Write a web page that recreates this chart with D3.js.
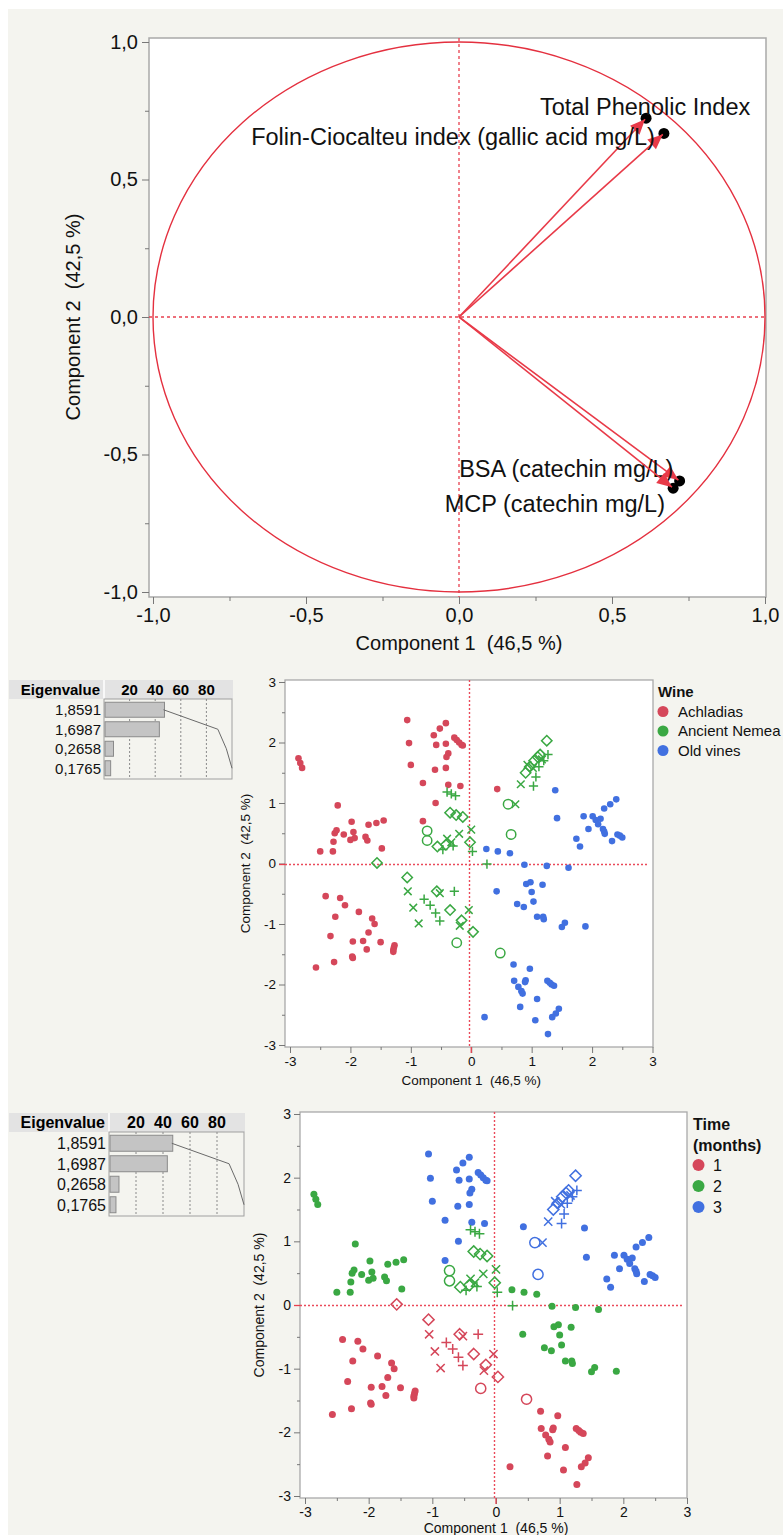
<!DOCTYPE html>
<html>
<head>
<meta charset="utf-8">
<script src="https://cdn.jsdelivr.net/npm/d3@7"></script>
<style>
  body { margin: 0; background: #fff; }
  svg { display: block; font-family: "Liberation Sans", Arial, sans-serif; }
</style>
</head>
<body>
<div id="chart"></div>
<script>
// ---- data ----
// loading plot
const variables = ['Total Phenolic Index', 'Folin-Ciocalteu index (gallic acid mg/L)', 'BSA (catechin mg/L)', 'MCP (catechin mg/L)'];
const loadPC1 = [0.608, 0.666, 0.717, 0.696];
const loadPC2 = [0.719, 0.664, -0.593, -0.619];

// eigenvalues
const eigenvalues = [1.8591, 1.6987, 0.2658, 0.1765];
const eigenLabels = ['1,8591', '1,6987', '0,2658', '0,1765'];
const pctTicks = [20, 40, 60, 80];

// axis ticks
const loadTicks = [-1, -0.5, 0, 0.5, 1];
const scoreTicks = [-3, -2, -1, 0, 1, 2, 3];

// scores: filled dots (Achladias, Old vines) [pc1, pc2]
const achladiasT1 = [[-2.41,-0.54],[-2.17,-0.57],[-2.09,-0.69],[-1.86,-0.80],[-2.25,-0.88],[-2.33,-1.20],[-1.64,-0.91],[-1.60,-1.00],[-1.70,-1.14],[-1.96,-1.29],[-1.79,-1.28],[-1.50,-1.30],[-1.27,-1.35],[-1.28,-1.39],[-1.29,-1.43],[-1.29,-1.46],[-1.73,-1.42],[-1.97,-1.54],[-1.96,-1.56],[-2.27,-1.63],[-2.57,-1.72]];
const achladiasT2 = [[-2.86,1.74],[-2.83,1.66],[-2.80,1.58],[-2.21,0.96],[-2.50,0.20],[-2.29,0.20],[-2.28,0.36],[-2.26,0.50],[-2.23,0.55],[-2.11,0.48],[-1.98,0.69],[-1.95,0.52],[-2.00,0.39],[-1.93,0.42],[-1.75,0.44],[-1.72,0.38],[-1.70,0.64],[-1.57,0.67],[-1.45,0.71],[-1.48,0.25]];
const achladiasT3 = [[-1.06,2.37],[-1.03,1.99],[-1.00,1.63],[-0.80,1.33],[-0.80,0.70],[-0.59,1.00],[-0.62,2.12],[-0.52,2.23],[-0.42,2.32],[-0.58,1.96],[-0.42,1.98],[-0.28,2.08],[-0.24,2.04],[-0.20,2.00],[-0.16,1.96],[-0.14,1.95],[-0.38,1.82],[-0.41,1.76],[-0.60,1.55],[-0.42,1.58],[-0.38,1.30],[-0.18,1.28],[0.43,1.23]];
const oldVinesT1 = [[0.70,-1.67],[0.97,-1.74],[0.71,-1.94],[0.90,-1.93],[0.89,-1.96],[0.78,-2.04],[0.83,-2.11],[0.85,-2.15],[1.26,-1.94],[1.30,-1.97],[1.33,-2.00],[1.37,-2.02],[1.09,-2.24],[0.81,-2.37],[1.45,-2.40],[1.40,-2.48],[1.34,-2.54],[1.06,-2.59],[0.22,-2.54],[1.27,-2.82]];
const oldVinesT2 = [[0.25,0.24],[0.44,0.20],[0.64,0.17],[0.88,-0.02],[1.25,-0.04],[1.61,-0.07],[0.42,-0.46],[0.91,-0.34],[0.98,-0.31],[1.18,-0.35],[1.00,-0.47],[0.76,-0.67],[0.87,-0.72],[1.03,-0.63],[1.09,-0.88],[1.19,-0.88],[1.20,-0.92],[1.50,-1.05],[1.55,-0.98],[1.89,-1.04]];
const oldVinesT3 = [[1.39,1.21],[1.42,0.75],[1.86,0.78],[1.94,0.57],[1.74,0.41],[1.80,0.28],[2.01,0.78],[2.06,0.72],[2.10,0.65],[2.14,0.74],[2.18,0.57],[2.20,0.53],[2.21,0.49],[2.20,0.91],[2.30,0.98],[2.40,1.06],[2.33,0.37],[2.42,0.48],[2.46,0.46],[2.50,0.43]];

// Ancient Nemea: hollow markers [pc1, pc2, marker]  (d diamond, x cross, + plus, o circle)
const nemeaT1 = [[-1.56,0.01,'d'],[-1.06,-0.23,'d'],[-0.57,-0.46,'d'],[-0.35,-0.77,'d'],[-0.16,-0.94,'d'],[0.03,-1.13,'d'],
  [-1.05,-0.46,'x'],[-0.96,-0.73,'x'],[-0.87,-0.99,'x'],[-0.52,-0.49,'x'],[-0.04,-0.77,'x'],[-0.19,-1.03,'x'],
  [-0.78,-0.59,'+'],[-0.68,-0.69,'+'],[-0.59,-0.82,'+'],[-0.52,-0.95,'+'],[-0.28,-0.46,'+'],
  [-0.24,-1.31,'o'],[0.48,-1.48,'o']];
const nemeaT2 = [[-0.40,1.18,'+'],[-0.33,1.15,'+'],[-0.26,1.12,'+'],[0.26,-0.01,'+'],[0.02,0.20,'+'],[-0.47,0.23,'+'],[-0.30,0.29,'+'],
  [-0.35,0.84,'d'],[-0.25,0.80,'d'],[-0.14,0.77,'d'],[-0.56,0.28,'d'],[-0.42,0.31,'d'],[-0.02,0.35,'d'],
  [-0.40,0.41,'x'],[-0.20,0.49,'x'],[0.00,0.56,'x'],[-0.33,0.35,'x'],
  [-0.73,0.54,'o'],[-0.73,0.38,'o']];
const nemeaT3 = [[1.25,2.03,'d'],[0.90,1.50,'d'],[0.97,1.60,'d'],[1.04,1.70,'d'],[1.10,1.76,'d'],[1.14,1.80,'d'],
  [0.73,0.98,'x'],[0.82,1.31,'x'],[0.93,1.63,'x'],[1.02,1.58,'x'],[1.17,1.72,'x'],
  [1.27,1.80,'+'],[1.03,1.28,'+'],[1.07,1.43,'+'],[1.12,1.60,'+'],[1.20,1.70,'+'],
  [0.61,0.98,'o'],[0.66,0.48,'o']];

const wines = ['Achladias', 'Ancient Nemea', 'Old vines'];
const times = ['1', '2', '3'];
const palette = ['#d5475a', '#3aa843', '#4170e0'];

// build one table of points
const points = [];
[[achladiasT1,'Achladias','1'],[achladiasT2,'Achladias','2'],[achladiasT3,'Achladias','3'],
 [oldVinesT1,'Old vines','1'],[oldVinesT2,'Old vines','2'],[oldVinesT3,'Old vines','3']]
  .forEach(([arr, wine, time]) => arr.forEach(d => points.push({ pc1: d[0], pc2: d[1], wine, time, shape: 'dot' })));
[[nemeaT1,'1'],[nemeaT2,'2'],[nemeaT3,'3']]
  .forEach(([arr, time]) => arr.forEach(d => points.push({ pc1: d[0], pc2: d[1], wine: 'Ancient Nemea', time, shape: d[2] })));

const svgW = 783, svgH = 1535;
const svg = d3.select('#chart').append('svg')
  .attr('width', svgW)
  .attr('height', svgH);

// page background
svg.append('rect').attr('x', 8).attr('y', 9).attr('width', svgW - 8).attr('height', svgH - 9).attr('fill', '#f4f4ef');

const commaFmt = d => d3.format('.1f')(d).replace('−', '-').replace('.', ',');
const intFmt = d => (d < 0 ? '-' + (-d) : '' + d);

// ================= loading plot =================
(function drawLoadings() {
  const frame = { l: 149, t: 38, r: 766, b: 597 };
  const x = d3.scaleLinear().domain([-1, 1]).range([153, 765]);
  const y = d3.scaleLinear().domain([-1, 1]).range([592, 42]);
  const g = svg.append('g');

  g.append('rect').attr('x', frame.l).attr('y', frame.t)
    .attr('width', frame.r - frame.l).attr('height', frame.b - frame.t)
    .attr('fill', '#fff').attr('stroke', '#a9a9a9').attr('stroke-width', 1.5);

  // axes with minor ticks
  const minor = [-0.75, -0.25, 0.25, 0.75];
  const styleAxis = a => {
    a.select('.domain').remove();
    a.selectAll('line').attr('stroke', '#777');
    a.selectAll('text').attr('fill', '#111').style('font-size', '20px');
  };
  g.append('g').attr('transform', `translate(0,${frame.b})`)
    .call(d3.axisBottom(x).tickValues(loadTicks).tickFormat(commaFmt).tickSize(7).tickPadding(4)).call(styleAxis);
  g.append('g').attr('transform', `translate(0,${frame.b})`)
    .call(d3.axisBottom(x).tickValues(minor).tickFormat('').tickSize(4)).call(styleAxis);
  g.append('g').attr('transform', `translate(${frame.l},0)`)
    .call(d3.axisLeft(y).tickValues(loadTicks).tickFormat(commaFmt).tickSize(7).tickPadding(4)).call(styleAxis);
  g.append('g').attr('transform', `translate(${frame.l},0)`)
    .call(d3.axisLeft(y).tickValues(minor).tickFormat('').tickSize(4)).call(styleAxis);

  // reference lines
  g.append('line').attr('x1', x(0)).attr('x2', x(0)).attr('y1', frame.t).attr('y2', frame.b)
    .attr('stroke', '#e8404f').attr('stroke-width', 1.3).attr('stroke-dasharray', '3,3');
  g.append('line').attr('x1', frame.l).attr('x2', frame.r).attr('y1', y(0)).attr('y2', y(0))
    .attr('stroke', '#e8404f').attr('stroke-width', 1.3).attr('stroke-dasharray', '3,3');

  // unit circle (ellipse on this aspect)
  g.append('ellipse').attr('cx', x(0)).attr('cy', y(0))
    .attr('rx', x(1) - x(0)).attr('ry', y(0) - y(1))
    .attr('fill', 'none').attr('stroke', '#e4303f').attr('stroke-width', 1.4);

  // label placement relative to arrow tip
  const labelPos = [
    { dx: 0, dy: -4, anchor: 'middle' },
    { dx: -8, dy: 11, anchor: 'end' },
    { dx: -5, dy: -3, anchor: 'end' },
    { dx: -7, dy: 25, anchor: 'end' }
  ];

  variables.forEach((name, i) => {
    const px = x(loadPC1[i]), py = y(loadPC2[i]);
    const ox = x(0), oy = y(0);
    const ang = Math.atan2(py - oy, px - ox);
    g.append('circle').attr('cx', px + Math.cos(ang) * 1.5).attr('cy', py + Math.sin(ang) * 1.5).attr('r', 5.5).attr('fill', '#000');
    g.append('line').attr('x1', ox).attr('y1', oy).attr('x2', px).attr('y2', py)
      .attr('stroke', '#e83a48').attr('stroke-width', 1.6);
    const len = 15, hw = 6.5;
    const bx = px - Math.cos(ang) * len, by = py - Math.sin(ang) * len;
    const nx = -Math.sin(ang) * hw, ny = Math.cos(ang) * hw;
    g.append('path')
      .attr('d', `M${px},${py}L${bx + nx},${by + ny}L${bx - nx},${by - ny}Z`)
      .attr('fill', '#e83a48');
    g.append('text').attr('x', px + labelPos[i].dx).attr('y', py + labelPos[i].dy)
      .attr('text-anchor', labelPos[i].anchor).style('font-size', '23.5px').attr('fill', '#111')
      .text(name);
  });

  g.append('text').attr('x', x(0)).attr('y', 650).attr('text-anchor', 'middle')
    .style('font-size', '20px').style('white-space', 'pre').attr('fill', '#111').text('Component 1  (46,5 %)');
  g.append('text').attr('transform', `translate(80,${y(0)}) rotate(-90)`).attr('text-anchor', 'middle')
    .style('font-size', '20px').style('white-space', 'pre').attr('fill', '#111').text('Component 2  (42,5 %)');
})();

// ================= eigenvalue tables =================
function drawEigen(o) {
  const g = svg.append('g');
  const total = d3.sum(eigenvalues);
  const pct = eigenvalues.map(v => v / total * 100);
  const cum = Array.from(d3.cumsum(pct));
  const xp = d3.scaleLinear().domain([0, 100]).range([o.boxL, o.boxR]);
  const rowY = i => o.boxT + o.rowH * (i + 0.5) + 1;

  g.append('rect').attr('x', 9).attr('y', o.headT).attr('width', o.boxR - 9 + 1).attr('height', o.boxT - o.headT)
    .attr('fill', '#e3e3e3');
  g.append('line').attr('x1', o.boxL).attr('x2', o.boxL).attr('y1', o.headT).attr('y2', o.boxT)
    .attr('stroke', '#fff').attr('stroke-width', 1.5);
  g.append('text').attr('x', o.boxL - 4).attr('y', (o.headT + o.boxT) / 2 + o.font * 0.36)
    .attr('text-anchor', 'end').style('font-size', o.font + 'px').style('font-weight', 'bold').text('Eigenvalue');
  g.selectAll('.ht').data(pctTicks).join('text')
    .attr('x', d => xp(d)).attr('y', (o.headT + o.boxT) / 2 + o.font * 0.36)
    .attr('text-anchor', 'middle').style('font-size', o.font + 'px').style('font-weight', 'bold').text(d => d);

  g.append('rect').attr('x', o.boxL).attr('y', o.boxT).attr('width', o.boxR - o.boxL).attr('height', o.rowH * 4 + 2)
    .attr('fill', 'none').attr('stroke', '#a0a0a0');
  g.selectAll('.grid').data(pctTicks).join('line')
    .attr('x1', d => xp(d)).attr('x2', d => xp(d)).attr('y1', o.boxT).attr('y2', o.boxT + o.rowH * 4 + 2)
    .attr('stroke', '#8a8a8a').attr('stroke-dasharray', '2,2');
  g.selectAll('.bar').data(pct).join('rect')
    .attr('x', xp(0) + 1).attr('y', (d, i) => rowY(i) - o.barH / 2)
    .attr('width', d => xp(d) - xp(0)).attr('height', o.barH)
    .attr('fill', '#c4c4c4').attr('stroke', '#8a8a8a');
  g.append('path')
    .attr('d', d3.line().x(d => xp(d)).y((d, i) => rowY(i))(cum))
    .attr('fill', 'none').attr('stroke', '#6a6a6a').attr('stroke-width', 1);
  g.selectAll('.val').data(eigenLabels).join('text')
    .attr('x', o.boxL - 3).attr('y', (d, i) => rowY(i) + o.font * 0.36)
    .attr('text-anchor', 'end').style('font-size', o.font + 'px').attr('fill', '#111').text(d => d);
}

drawEigen({ headT: 680, boxT: 699, boxL: 104, boxR: 232, rowH: 19.5, barH: 15, font: 15 });
drawEigen({ headT: 1113, boxT: 1132, boxL: 109, boxR: 244, rowH: 20.5, barH: 16, font: 16 });

// ================= score plots =================
function markPath(shape, s) {
  if (shape === 'o') { const r = 4.7 * s; return `M${-r},0a${r},${r} 0 1,0 ${2 * r},0a${r},${r} 0 1,0 ${-2 * r},0`; }
  if (shape === 'd') { const h = 5.2 * s; return `M0,${-h}L${h},0L0,${h}L${-h},0Z`; }
  if (shape === 'x') { const a = 3.8 * s; return `M${-a},${-a}L${a},${a}M${-a},${a}L${a},${-a}`; }
  const b = 4.6 * s; return `M${-b},0L${b},0M0,${-b}L0,${b}`;
}

function drawScores(o) {
  const g = svg.append('g');
  const x = d3.scaleLinear().domain([-3, 3]).range(o.xr);
  const y = d3.scaleLinear().domain([-3, 3]).range(o.yr);
  const f = o.frame;
  const color = d3.scaleOrdinal().domain(o.groups).range(palette);

  g.append('rect').attr('x', f.l).attr('y', f.t).attr('width', f.r - f.l).attr('height', f.b - f.t)
    .attr('fill', '#fff').attr('stroke', '#a9a9a9').attr('stroke-width', 1.3);

  const minor = [-2.5, -1.5, -0.5, 0.5, 1.5, 2.5];
  const styleAxis = a => {
    a.select('.domain').remove();
    a.selectAll('line').attr('stroke', '#777');
    a.selectAll('text').attr('fill', '#111').style('font-size', o.font + 'px');
  };
  g.append('g').attr('transform', `translate(0,${f.b})`)
    .call(d3.axisBottom(x).tickValues(scoreTicks).tickFormat(intFmt).tickSize(6).tickPadding(3)).call(styleAxis);
  g.append('g').attr('transform', `translate(0,${f.b})`)
    .call(d3.axisBottom(x).tickValues(minor).tickFormat('').tickSize(3)).call(styleAxis);
  g.append('g').attr('transform', `translate(${f.l},0)`)
    .call(d3.axisLeft(y).tickValues(scoreTicks).tickFormat(intFmt).tickSize(6).tickPadding(3)).call(styleAxis);
  g.append('g').attr('transform', `translate(${f.l},0)`)
    .call(d3.axisLeft(y).tickValues(minor).tickFormat('').tickSize(3)).call(styleAxis);

  // zero reference lines (pixel aligned), with the zero ticks in red
  const zx = Math.round(x(0)) - 1.5, zy = Math.round(y(0)) + 0.5;
  g.append('line').attr('x1', zx).attr('x2', zx).attr('y1', f.t).attr('y2', f.b)
    .attr('stroke', '#ea4a5a').attr('stroke-width', 1.4).attr('stroke-dasharray', '2,2');
  g.append('line').attr('x1', f.l).attr('x2', f.r - 4).attr('y1', zy).attr('y2', zy)
    .attr('stroke', '#ea4a5a').attr('stroke-width', 1.4).attr('stroke-dasharray', '2,2');
  g.append('line').attr('x1', x(0)).attr('x2', x(0)).attr('y1', f.b).attr('y2', f.b + 6).attr('stroke', '#e8404f').attr('stroke-width', 1.3);
  g.append('line').attr('x1', f.l - 6).attr('x2', f.l).attr('y1', zy).attr('y2', zy).attr('stroke', '#e8404f').attr('stroke-width', 1.3);

  g.selectAll('.dot').data(points.filter(d => d.shape === 'dot')).join('circle')
    .attr('cx', d => x(d.pc1)).attr('cy', d => y(d.pc2)).attr('r', o.dotR)
    .attr('fill', d => color(d[o.key]));
  g.selectAll('.mark').data(points.filter(d => d.shape !== 'dot')).join('path')
    .attr('transform', d => `translate(${x(d.pc1)},${y(d.pc2)})`)
    .attr('d', d => markPath(d.shape, o.markS))
    .attr('fill', 'none').attr('stroke', d => color(d[o.key])).attr('stroke-width', 1.5);

  g.append('text').attr('x', x(0)).attr('y', o.xTitleY).attr('text-anchor', 'middle')
    .style('font-size', o.font + 'px').style('white-space', 'pre').attr('fill', '#111').text('Component 1  (46,5 %)');
  g.append('text').attr('transform', `translate(${o.yTitleX},${y(0)}) rotate(-90)`).attr('text-anchor', 'middle')
    .style('font-size', o.font + 'px').style('white-space', 'pre').attr('fill', '#111').text('Component 2  (42,5 %)');

  // legend
  const lg = g.append('g');
  o.legendTitle.forEach((t, i) => {
    lg.append('text').attr('x', o.legX).attr('y', o.legY + i * o.legStep)
      .style('font-size', o.legFont + 'px').style('font-weight', 'bold').attr('fill', '#111').text(t);
  });
  o.groups.forEach((k, i) => {
    const cy = o.legY + (o.legendTitle.length - 1) * o.legStep + o.legFirst + i * o.legStep;
    lg.append('circle').attr('cx', o.legX + o.legDot).attr('cy', cy).attr('r', o.legR).attr('fill', color(k));
    lg.append('text').attr('x', o.legX + o.legText).attr('y', cy + o.legFont * 0.36)
      .style('font-size', o.legFont + 'px').attr('fill', '#111').text(k);
  });
}

drawScores({
  key: 'wine', groups: wines,
  frame: { l: 285, t: 680, r: 653, b: 1047 },
  xr: [290, 652.5], yr: [1045, 682],
  font: 13.5, dotR: 3.3, markS: 1,
  xTitleY: 1085, yTitleX: 250,
  legendTitle: ['Wine'], legX: 658, legY: 697, legStep: 19.5, legFirst: 14.5, legFont: 15, legDot: 5, legText: 20, legR: 5.5
});

drawScores({
  key: 'time', groups: times,
  frame: { l: 300, t: 1112, r: 687, b: 1498 },
  xr: [305, 687], yr: [1496, 1114],
  font: 14, dotR: 3.5, markS: 1.08,
  xTitleY: 1533, yTitleX: 264,
  legendTitle: ['Time', '(months)'], legX: 693, legY: 1130, legStep: 21, legFirst: 14, legFont: 16, legDot: 5.5, legText: 20, legR: 6
});
</script>
</body>
</html>
